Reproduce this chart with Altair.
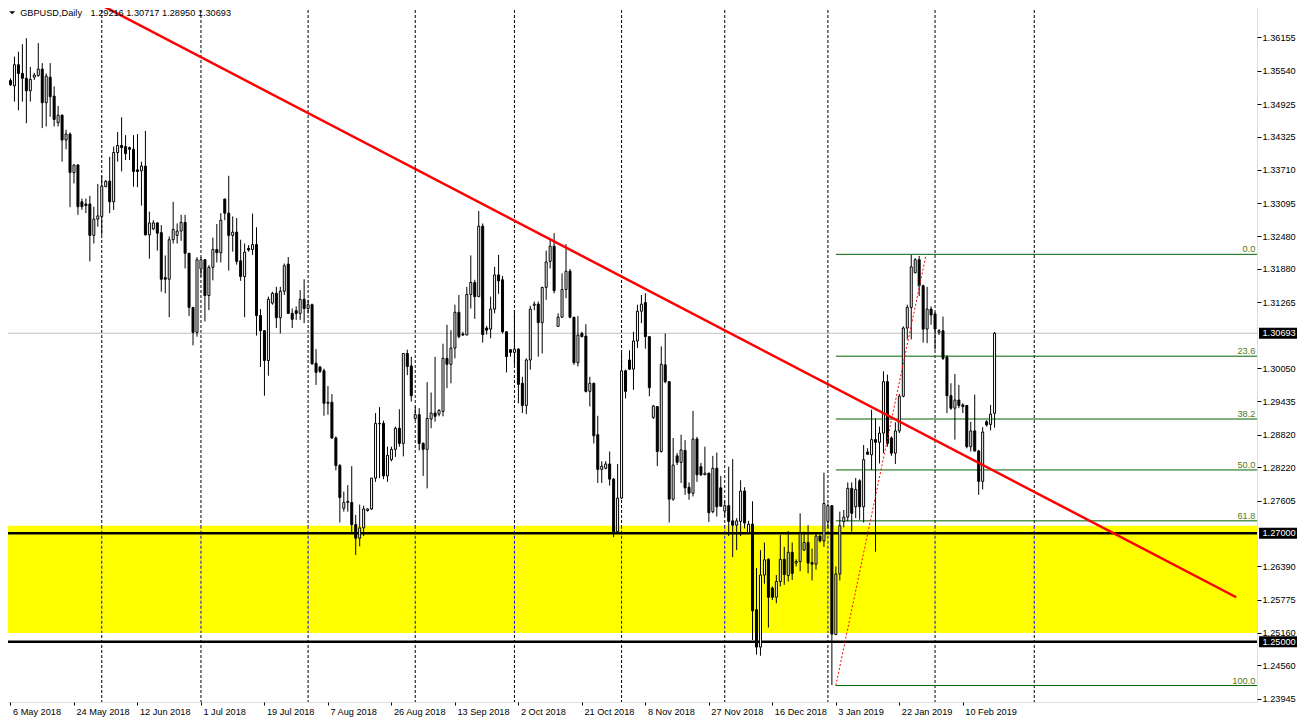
import json
import altair as alt
import pandas as pd

# ---------------- data ----------------
opens = [
    1.3536, 1.3526, 1.3565, 1.3549, 1.3540, 1.3517, 1.3542, 1.3545, 1.3557, 1.3495,
    1.3542, 1.3507, 1.3458, 1.3472, 1.3426, 1.3437, 1.3366, 1.3380, 1.3312, 1.3308,
    1.3308, 1.3250, 1.3280, 1.3285, 1.3340, 1.3350, 1.3312, 1.3403, 1.3416, 1.3414,
    1.3412, 1.3409, 1.3371, 1.3369, 1.3378, 1.3251, 1.3262, 1.3273, 1.3255, 1.3172,
    1.3169, 1.3242, 1.3250, 1.3258, 1.3274, 1.3217, 1.3117, 1.3071, 1.3188, 1.3205,
    1.3139, 1.3191, 1.3224, 1.3218, 1.3317, 1.3291, 1.3250, 1.3256, 1.3203, 1.3174,
    1.3226, 1.3224, 1.3233, 1.3102, 1.3074, 1.3019, 1.3125, 1.3143, 1.3098, 1.3147,
    1.3197, 1.3106, 1.3111, 1.3106, 1.3132, 1.3115, 1.3122, 1.3014, 1.3007, 1.3000,
    1.2940, 1.2942, 1.2876, 1.2825, 1.2746, 1.2757, 1.2757, 1.2716, 1.2691, 1.2710,
    1.2742, 1.2745, 1.2802, 1.2902, 1.2903, 1.2806, 1.2836, 1.2855, 1.2894, 1.2866,
    1.3032, 1.3009, 1.2912, 1.2919, 1.2866, 1.2855, 1.2911, 1.2922, 1.2920, 1.2925,
    1.3023, 1.3012, 1.3042, 1.3108, 1.3068, 1.3066, 1.3141, 1.3163, 1.3137, 1.3267,
    1.3079, 1.3077, 1.3114, 1.3177, 1.3168, 1.3072, 1.3039, 1.3034, 1.3040, 1.2977,
    1.2936, 1.3020, 1.3121, 1.3123, 1.3089, 1.3154, 1.3202, 1.3230, 1.3082, 1.3099,
    1.3150, 1.3184, 1.3099, 1.3015, 1.3069, 1.3064, 1.2962, 1.2977, 1.2882, 1.2818,
    1.2820, 1.2828, 1.2800, 1.2703, 1.2765, 1.3000, 1.3020, 1.3003, 1.3055, 1.3110,
    1.3126, 1.3063, 1.2914, 1.2934, 1.2851, 1.3011, 1.2980, 1.2763, 1.2843, 1.2831,
    1.2853, 1.2785, 1.2774, 1.2874, 1.2823, 1.2808, 1.2811, 1.2740, 1.2820, 1.2784,
    1.2741, 1.2751, 1.2723, 1.2715, 1.2722, 1.2778, 1.2701, 1.2717, 1.2559, 1.2490,
    1.2623, 1.2652, 1.2599, 1.2582, 1.2611, 1.2652, 1.2622, 1.2665, 1.2645, 1.2648,
    1.2669, 1.2683, 1.2646, 1.2643, 1.2695, 1.2686, 1.2722, 1.2751, 1.2513, 1.2625,
    1.2722, 1.2730, 1.2783, 1.2749, 1.2797, 1.2749, 1.2850, 1.2845, 1.2873, 1.2868,
    1.2885, 1.2980, 1.2876, 1.2848, 1.2889, 1.2953, 1.3079, 1.3117, 1.3181, 1.3205,
    1.3157, 1.3077, 1.3114, 1.3105, 1.3071, 1.3074, 1.3025, 1.2954, 1.2931, 1.2946,
    1.2937, 1.2936, 1.2860, 1.2889, 1.2852, 1.2796, 1.2906, 1.2901, 1.29216,
]
highs = [
    1.3540, 1.3580, 1.3589, 1.3603, 1.3614, 1.3561, 1.3550, 1.3605, 1.3568, 1.3549,
    1.3568, 1.3525, 1.3489, 1.3473, 1.3445, 1.3440, 1.3381, 1.3381, 1.3318, 1.3318,
    1.3323, 1.3303, 1.3345, 1.3360, 1.3352, 1.3395, 1.3414, 1.3441, 1.3468, 1.3435,
    1.3414, 1.3435, 1.3437, 1.3386, 1.3443, 1.3294, 1.3278, 1.3274, 1.3269, 1.3213,
    1.3248, 1.3312, 1.3272, 1.3288, 1.3288, 1.3217, 1.3118, 1.3210, 1.3210, 1.3206,
    1.3195, 1.3246, 1.3271, 1.3291, 1.3318, 1.3360, 1.3285, 1.3282, 1.3242, 1.3235,
    1.3232, 1.3290, 1.3265, 1.3114, 1.3075, 1.3137, 1.3146, 1.3155, 1.3155, 1.3198,
    1.3210, 1.3115, 1.3119, 1.3149, 1.3169, 1.3131, 1.3124, 1.3040, 1.3009, 1.3004,
    1.2972, 1.2957, 1.2879, 1.2828, 1.2777, 1.2789, 1.2824, 1.2734, 1.2753, 1.2751,
    1.2746, 1.2802, 1.2922, 1.2933, 1.2908, 1.2860, 1.2860, 1.2897, 1.2929, 1.3032,
    1.3039, 1.3026, 1.2934, 1.2931, 1.2868, 1.2979, 1.2960, 1.3026, 1.2929, 1.3050,
    1.3085, 1.3075, 1.3122, 1.3140, 1.3072, 1.3155, 1.3213, 1.3168, 1.3295, 1.3272,
    1.3083, 1.3137, 1.3192, 1.3214, 1.3175, 1.3073, 1.3039, 1.3112, 1.3042, 1.2989,
    1.3023, 1.3120, 1.3128, 1.3128, 1.3155, 1.3222, 1.3243, 1.3254, 1.3106, 1.3180,
    1.3234, 1.3188, 1.3099, 1.3101, 1.3072, 1.3086, 1.2989, 1.2978, 1.2917, 1.2833,
    1.2833, 1.2851, 1.2802, 1.2828, 1.3033, 1.3002, 1.3038, 1.3072, 1.3122, 1.3140,
    1.3143, 1.3064, 1.2937, 1.2935, 1.3045, 1.3069, 1.2981, 1.2876, 1.2848, 1.2882,
    1.2872, 1.2794, 1.2926, 1.2878, 1.2830, 1.2860, 1.2812, 1.2843, 1.2849, 1.2806,
    1.2759, 1.2823, 1.2837, 1.2728, 1.2798, 1.2785, 1.2723, 1.2759, 1.2636, 1.2669,
    1.2683, 1.2654, 1.2602, 1.2623, 1.2697, 1.2675, 1.2704, 1.2683, 1.2652, 1.2737,
    1.2703, 1.2715, 1.2672, 1.2700, 1.2697, 1.2812, 1.2755, 1.2751, 1.2639, 1.2740,
    1.2743, 1.2794, 1.2794, 1.2802, 1.2800, 1.2863, 1.2857, 1.2928, 1.2912, 1.2897,
    1.2999, 1.2993, 1.2879, 1.2905, 1.2957, 1.3082, 1.3122, 1.3214, 1.3208, 1.3212,
    1.3159, 1.3155, 1.3119, 1.3108, 1.3077, 1.3100, 1.3029, 1.2977, 1.2994, 1.2974,
    1.2940, 1.2937, 1.2906, 1.2956, 1.2854, 1.2896, 1.2909, 1.2937, 1.30717,
]
lows = [
    1.3526, 1.3497, 1.3481, 1.3497, 1.3457, 1.3497, 1.3537, 1.3543, 1.3448, 1.3451,
    1.3469, 1.3451, 1.3451, 1.3386, 1.3409, 1.3302, 1.3346, 1.3288, 1.3297, 1.3291,
    1.3202, 1.3235, 1.3266, 1.3251, 1.3339, 1.3291, 1.3297, 1.3386, 1.3368, 1.3389,
    1.3389, 1.3340, 1.3339, 1.3305, 1.3250, 1.3207, 1.3260, 1.3222, 1.3146, 1.3143,
    1.3099, 1.3235, 1.3235, 1.3240, 1.3189, 1.3101, 1.3047, 1.3063, 1.3174, 1.3091,
    1.3112, 1.3167, 1.3200, 1.3200, 1.3278, 1.3185, 1.3220, 1.3196, 1.3166, 1.3099,
    1.3220, 1.3214, 1.3065, 1.3007, 1.2954, 1.2991, 1.3122, 1.3079, 1.3069, 1.3140,
    1.3105, 1.3079, 1.3094, 1.3094, 1.3088, 1.3106, 1.3011, 1.2974, 1.2996, 1.2917,
    1.2919, 1.2874, 1.2816, 1.2720, 1.2740, 1.2740, 1.2700, 1.2660, 1.2676, 1.2695,
    1.2740, 1.2743, 1.2795, 1.2802, 1.2800, 1.2795, 1.2833, 1.2841, 1.2860, 1.2842,
    1.2992, 1.2943, 1.2909, 1.2853, 1.2806, 1.2783, 1.2894, 1.2906, 1.2916, 1.2916,
    1.2968, 1.2977, 1.3023, 1.3060, 1.3065, 1.3066, 1.3115, 1.3096, 1.3136, 1.3052,
    1.3067, 1.3060, 1.3106, 1.3142, 1.3069, 1.2997, 1.3026, 1.3011, 1.2940, 1.2922,
    1.2920, 1.3002, 1.3112, 1.3026, 1.3032, 1.3131, 1.3189, 1.3143, 1.3082, 1.3098,
    1.3134, 1.3097, 1.3011, 1.3008, 1.3062, 1.2960, 1.2934, 1.2866, 1.2793, 1.2793,
    1.2818, 1.2788, 1.2693, 1.2700, 1.2763, 1.2949, 1.3002, 1.2965, 1.3042, 1.3088,
    1.3041, 1.2953, 1.2911, 1.2824, 1.2849, 1.2977, 1.2720, 1.2760, 1.2826, 1.2793,
    1.2771, 1.2762, 1.2768, 1.2795, 1.2806, 1.2808, 1.2721, 1.2737, 1.2731, 1.2750,
    1.2731, 1.2695, 1.2656, 1.2669, 1.2695, 1.2709, 1.2700, 1.2503, 1.2476, 1.2474,
    1.2607, 1.2526, 1.2577, 1.2571, 1.2602, 1.2605, 1.2611, 1.2614, 1.2639, 1.2630,
    1.2668, 1.2626, 1.2613, 1.2633, 1.2683, 1.2675, 1.2709, 1.2420, 1.2513, 1.2613,
    1.2711, 1.2722, 1.2703, 1.2728, 1.2725, 1.2720, 1.2845, 1.2817, 1.2666, 1.2829,
    1.2848, 1.2860, 1.2843, 1.2828, 1.2885, 1.2951, 1.3058, 1.3058, 1.3180, 1.3138,
    1.3052, 1.3051, 1.3085, 1.3039, 1.3066, 1.3020, 1.2922, 1.2928, 1.2873, 1.2931,
    1.2922, 1.2857, 1.2851, 1.2851, 1.2771, 1.2781, 1.2897, 1.2890, 1.28950,
]
closes = [
    1.3528, 1.3565, 1.3549, 1.3540, 1.3517, 1.3538, 1.3546, 1.3557, 1.3495, 1.3544,
    1.3506, 1.3464, 1.3472, 1.3426, 1.3437, 1.3366, 1.3380, 1.3303, 1.3303, 1.3305,
    1.3250, 1.3280, 1.3286, 1.3341, 1.3350, 1.3312, 1.3403, 1.3416, 1.3412, 1.3401,
    1.3409, 1.3368, 1.3368, 1.3378, 1.3251, 1.3273, 1.3273, 1.3254, 1.3169, 1.3169,
    1.3242, 1.3261, 1.3258, 1.3274, 1.3217, 1.3117, 1.3071, 1.3205, 1.3205, 1.3139,
    1.3191, 1.3224, 1.3218, 1.3278, 1.3291, 1.3250, 1.3256, 1.3202, 1.3174, 1.3219,
    1.3223, 1.3233, 1.3102, 1.3074, 1.3019, 1.3132, 1.3143, 1.3098, 1.3147, 1.3194,
    1.3106, 1.3095, 1.3106, 1.3132, 1.3115, 1.3122, 1.3013, 1.2997, 1.2999, 1.2940,
    1.2942, 1.2876, 1.2825, 1.2766, 1.2757, 1.2759, 1.2716, 1.2691, 1.2710, 1.2745,
    1.2745, 1.2802, 1.2903, 1.2903, 1.2806, 1.2844, 1.2855, 1.2894, 1.2866, 1.3032,
    1.3008, 1.2954, 1.2919, 1.2866, 1.2855, 1.2912, 1.2922, 1.2916, 1.2927, 1.3023,
    1.3012, 1.3042, 1.3108, 1.3063, 1.3066, 1.3141, 1.3163, 1.3137, 1.3267, 1.3067,
    1.3075, 1.3114, 1.3177, 1.3166, 1.3072, 1.3026, 1.3034, 1.3040, 1.2975, 1.2936,
    1.3020, 1.3114, 1.3123, 1.3089, 1.3154, 1.3201, 1.3230, 1.3148, 1.3099, 1.3150,
    1.3184, 1.3099, 1.3015, 1.3066, 1.3063, 1.2962, 1.2977, 1.2880, 1.2818, 1.2824,
    1.2828, 1.2800, 1.2703, 1.2765, 1.3000, 1.2962, 1.3003, 1.3055, 1.3110, 1.3123,
    1.3063, 1.2969, 1.2935, 1.2851, 1.3012, 1.2980, 1.2763, 1.2826, 1.2831, 1.2854,
    1.2784, 1.2774, 1.2874, 1.2808, 1.2808, 1.2811, 1.2738, 1.2820, 1.2749, 1.2750,
    1.2751, 1.2722, 1.2715, 1.2723, 1.2778, 1.2719, 1.2717, 1.2557, 1.2490, 1.2623,
    1.2651, 1.2582, 1.2582, 1.2611, 1.2652, 1.2624, 1.2665, 1.2626, 1.2648, 1.2699,
    1.2683, 1.2645, 1.2643, 1.2695, 1.2686, 1.2755, 1.2751, 1.2514, 1.2625, 1.2714,
    1.2730, 1.2783, 1.2737, 1.2781, 1.2749, 1.2836, 1.2846, 1.2873, 1.2868, 1.2885,
    1.2980, 1.2866, 1.2848, 1.2889, 1.2953, 1.3079, 1.3117, 1.3192, 1.3205, 1.3157,
    1.3077, 1.3114, 1.3103, 1.3077, 1.3074, 1.3023, 1.2954, 1.2931, 1.2946, 1.2936,
    1.2934, 1.2860, 1.2889, 1.2852, 1.2796, 1.2887, 1.2900, 1.2920, 1.30693,
]

date_labels = ["6 May 2018", "24 May 2018", "12 Jun 2018", "1 Jul 2018", "19 Jul 2018",
               "7 Aug 2018", "26 Aug 2018", "13 Sep 2018", "2 Oct 2018", "21 Oct 2018",
               "8 Nov 2018", "27 Nov 2018", "16 Dec 2018", "3 Jan 2019", "22 Jan 2019",
               "10 Feb 2019"]
date_ticks = [0, 16, 32, 48, 64, 80, 96, 112, 128, 144, 160, 176, 192, 208, 224, 240]
price_ticks = [1.36755, 1.36155, 1.35540, 1.34925, 1.34325, 1.33710, 1.33095, 1.32480,
               1.31880, 1.31265, 1.30050, 1.29435, 1.28820, 1.28220, 1.27605, 1.26390,
               1.25775, 1.25160, 1.24560, 1.23945]
grid_bars = [23, 48, 75, 102, 127, 154, 180, 206, 233, 258]

fib_names = ["0.0", "23.6", "38.2", "50.0", "61.8", "100.0"]
fib_prices = [1.3215, 1.3027, 1.2911, 1.2817, 1.2723, 1.2419]
fib_start = [208, 208, 208, 208, 208, 208]

trend_bar = [22.9, 308.9]
trend_price = [1.3675, 1.2582]
dotted_bar = [208, 230.7]
dotted_price = [1.2419, 1.3213]

zone_top = [1.2714]
zone_bottom = [1.2516]
level_prices = [1.27000, 1.25000]
level_names = ["1.27000", "1.25000"]
last_price = [1.30693]
last_name = ["1.30693"]

title_symbol = "GBPUSD,Daily"
title_ohlc = "1.29216 1.30717 1.28950 1.30693"

# ---------------- chart ----------------
W, H = 1252, 697
FONT = "Liberation Sans"
FS = 9.2

xs = alt.Scale(domain=[-0.125, 312.875], nice=False, zero=False)
ys = alt.Scale(domain=[1.23886, 1.36753], nice=False, zero=False)

label_expr = "%s[round(datum.value / 16)]" % json.dumps(date_labels)
xax = alt.Axis(values=date_ticks, labelExpr=label_expr, title=None, grid=False,
               domain=False, ticks=True, tickSize=3, tickColor="black",
               labelAlign="left", labelBaseline="middle", labelPadding=6,
               labelOffset=2, labelFont=FONT, labelFontSize=FS, labelColor="black",
               labelOverlap=False, labelFlush=False)
yax = alt.Axis(orient="right", values=price_ticks, format=".5f", title=None, grid=False,
               domain=False, ticks=True, tickSize=4, tickColor="black",
               labelPadding=1, labelFont=FONT, labelFontSize=FS, labelColor="black",
               labelOverlap=False, labelFlush=False)


def X(f):
    return alt.X(f, scale=xs, axis=xax)


def Y(f):
    return alt.Y(f, scale=ys, axis=yax)


candles = pd.DataFrame({"i": list(range(len(opens))), "o": opens, "h": highs,
                        "l": lows, "c": closes})
grid_df = pd.DataFrame({"g": grid_bars})
zone_df = pd.DataFrame({"top": zone_top, "bot": zone_bottom})
lvl_df = pd.DataFrame({"p": level_prices, "name": level_names})
last_df = pd.DataFrame({"p": last_price, "name": last_name})
fib_df = pd.DataFrame({"p": fib_prices, "name": fib_names, "s": fib_start})
trend_df = pd.DataFrame({"b": trend_bar, "p": trend_price})
dotted_df = pd.DataFrame({"b": dotted_bar, "p": dotted_price})
zone_grid_df = pd.DataFrame({"g": grid_bars, "top": zone_top * len(grid_bars),
                             "bot": zone_bottom * len(grid_bars)})

grid_black = alt.Chart(grid_df).mark_rule(color="black", strokeWidth=1,
                                           strokeDash=[3, 2]).encode(x=X("g:Q"))
zone = alt.Chart(zone_df).mark_rect(color="#ffff00").encode(
    x=alt.value(0), x2=alt.value(W), y=Y("top:Q"), y2="bot:Q")
grid_blue = alt.Chart(zone_grid_df).mark_rule(color="#0000ff", strokeWidth=1,
                                              strokeDash=[3, 2]).encode(
    x=X("g:Q"), y=Y("top:Q"), y2="bot:Q")
last_line = alt.Chart(last_df).mark_rule(color="#c0c0c0", strokeWidth=1).encode(y=Y("p:Q"))
lvl_lines = alt.Chart(lvl_df).mark_rule(color="black", strokeWidth=2.5).encode(y=Y("p:Q"))
fib_lines = alt.Chart(fib_df).mark_rule(color="#006400", strokeWidth=1).encode(
    x=X("s:Q"), x2=alt.value(W), y=Y("p:Q"))

wicks = alt.Chart(candles).mark_rule(color="black", strokeWidth=1).encode(
    x=X("i:Q"), y=Y("h:Q"), y2="l:Q")
bodies = alt.Chart(candles).mark_bar(size=2, stroke="black", strokeWidth=1).encode(
    x=X("i:Q"), y=Y("o:Q"), y2="c:Q",
    fill=alt.condition("datum.c >= datum.o", alt.value("white"), alt.value("black")))

trend = alt.Chart(trend_df).mark_line(color="#ff0000", strokeWidth=2.5).encode(
    x=X("b:Q"), y=Y("p:Q"))
dotted = alt.Chart(dotted_df).mark_line(color="#ff0000", strokeWidth=1,
                                        strokeDash=[2, 2]).encode(x=X("b:Q"), y=Y("p:Q"))

fib_text = alt.Chart(fib_df).mark_text(align="right", baseline="middle", dy=-5,
                                       font=FONT, fontSize=FS, color="#527a22").encode(
    x=alt.value(1250.3), y=Y("p:Q"), text="name:N")

box_shape = "M-1,-0.268L1,-0.268L1,0.268L-1,0.268Z"
boxes_df = pd.concat([last_df, lvl_df], ignore_index=True)
boxes = alt.Chart(boxes_df).mark_point(shape=box_shape, size=1681, filled=True,
                                       color="black", opacity=1, strokeWidth=0).encode(
    x=alt.value(1274.5), y=Y("p:Q"))
box_text = alt.Chart(boxes_df).mark_text(align="left", baseline="middle", font=FONT,
                                         fontSize=FS, color="white").encode(
    x=alt.value(1257.5), y=Y("p:Q"), text="name:N")

title_df = pd.DataFrame({"t": [title_symbol]})
title1 = alt.Chart(title_df).mark_text(align="left", baseline="middle", font=FONT,
                                       fontSize=FS, color="black").encode(
    x=alt.value(15.2), y=alt.value(7.7), text="t:N")
title_df2 = pd.DataFrame({"t": [title_ohlc]})
title2 = alt.Chart(title_df2).mark_text(align="left", baseline="middle", font=FONT,
                                        fontSize=FS, color="black").encode(
    x=alt.value(85.5), y=alt.value(7.7), text="t:N")
tri = alt.Chart(pd.DataFrame({"k": [0]})).mark_point(
    shape="M-1,-0.5L1,-0.5L0,0.5Z", size=36, filled=True, color="black",
    opacity=1, strokeWidth=0).encode(x=alt.value(7.2), y=alt.value(7.7))

chart = alt.layer(
    grid_black, zone, grid_blue, last_line, lvl_lines, fib_lines,
    wicks, bodies, trend, dotted, fib_text, boxes, box_text, title1, title2, tri
).properties(
    width=W, height=H,
    autosize=alt.AutoSizeParams(type="none"),
    padding={"left": -3, "top": -3, "right": 40, "bottom": 15},
).configure_view(stroke="black", strokeWidth=1).configure(background="white")

chart.save("out.html", embed_options={"renderer": "svg", "actions": False})
